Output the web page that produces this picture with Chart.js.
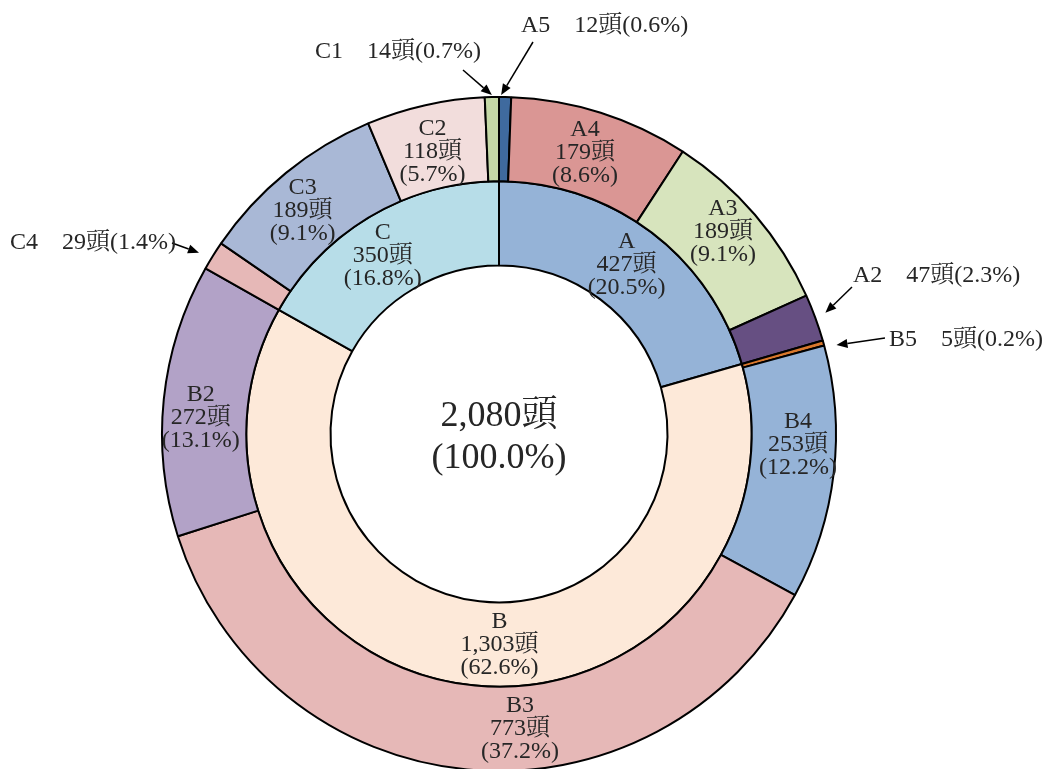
<!DOCTYPE html>
<html>
<head>
<meta charset="utf-8">
<script src="https://cdn.jsdelivr.net/npm/chart.js@4.4.1/dist/chart.umd.min.js"></script>
<style>
  html, body { margin: 0; padding: 0; background: #ffffff; overflow: hidden; }
  canvas { display: block; }
</style>
</head>
<body>
<canvas id="c" width="1044" height="780"></canvas>
<script>
// ---- data ----
const innerLabels = ['A', 'B', 'C'];
const innerValues = [427, 1303, 350];
const outerLabels = ['A5', 'A4', 'A3', 'A2', 'B5', 'B4', 'B3', 'B2', 'C4', 'C3', 'C2', 'C1'];
const outerValues = [12, 179, 189, 47, 5, 253, 773, 272, 29, 189, 118, 14];
const totalHead = 2080;
const unit = '頭';

// ---- styles ----
const innerColors = ['#95B3D7', '#FDE9D9', '#B7DDE8'];
const outerColors = ['#3F6A9E', '#DA9694', '#D7E4BD', '#664F82', '#D9782D', '#95B3D7',
                     '#E6B8B7', '#B2A2C7', '#E6B8B7', '#A9B8D6', '#F2DDDC', '#C5D8A6'];
const FONT = '"Liberation Serif", "Noto Serif CJK JP", "Noto Sans CJK JP", serif';
const TEXT = '#262626';
const LINE = 23;
// label nudges (layout only): [dx, dy] from segment centroid
const innerNudge = [[1, -1], [25, 2], [-10, 4]];
const outerNudge = {A4: [-3, 0], A3: [0, -10], B4: [6, -24], B3: [49, 1], B2: [-5, 14], C3: [-10, 5], C2: [-2, 5]};
// callouts (layout only): text left/middle position, arrow tail, tip nudge from outer edge
const callouts = {
  A5: {text: [521, 26], tail: [533, 42], tip: [-4, -2]},
  C1: {text: [315, 52], tail: [463, 70], tip: [0, -2]},
  C4: {text: [10, 243], tail: [172, 243], tip: [-14, -3]},
  A2: {text: [853, 276], tail: [852, 287], tip: [10, -5]},
  B5: {text: [889, 340], tail: [885, 338], tip: [13, 2]}
};

const fmt = v => v.toLocaleString('en-US');
const pct = v => (v / totalHead * 100).toFixed(1);

function arrow(ctx, x0, y0, x1, y1) {
  const a = Math.atan2(y1 - y0, x1 - x0);
  const L = 11, W = 4.5;
  const bx = x1 - L * Math.cos(a), by = y1 - L * Math.sin(a);
  ctx.beginPath();
  ctx.moveTo(x0, y0);
  ctx.lineTo(bx, by);
  ctx.stroke();
  ctx.beginPath();
  ctx.moveTo(x1, y1);
  ctx.lineTo(bx + W * Math.sin(a), by - W * Math.cos(a));
  ctx.lineTo(bx - W * Math.sin(a), by + W * Math.cos(a));
  ctx.closePath();
  ctx.fill();
}

const labelPlugin = {
  id: 'segLabels',
  afterDatasetsDraw(chart) {
    const ctx = chart.ctx;
    ctx.save();
    ctx.font = '24px ' + FONT;
    ctx.textBaseline = 'middle';
    chart.data.datasets.forEach((ds, di) => {
      const meta = chart.getDatasetMeta(di);
      meta.data.forEach((arc, i) => {
        const p = arc.getProps(['x', 'y', 'startAngle', 'endAngle', 'innerRadius', 'outerRadius'], true);
        const mid = (p.startAngle + p.endAngle) / 2;
        const rm = (p.innerRadius + p.outerRadius) / 2;
        const name = ds.names[i];
        const v = ds.data[i];
        const co = callouts[name];
        if (co) {
          const ex = p.x + p.outerRadius * Math.cos(mid) + co.tip[0];
          const ey = p.y + p.outerRadius * Math.sin(mid) + co.tip[1];
          ctx.strokeStyle = '#000';
          ctx.fillStyle = '#000';
          ctx.lineWidth = 1.5;
          arrow(ctx, co.tail[0], co.tail[1], ex, ey);
          ctx.fillStyle = TEXT;
          ctx.textAlign = 'left';
          ctx.fillText(name + '　' + fmt(v) + unit + '(' + pct(v) + '%)', co.text[0], co.text[1]);
          return;
        }
        const nd = di === 1 ? innerNudge[i] : (outerNudge[name] || [0, 0]);
        const cx = p.x + rm * Math.cos(mid) + nd[0];
        const cy = p.y + rm * Math.sin(mid) + nd[1];
        ctx.fillStyle = TEXT;
        ctx.textAlign = 'center';
        ctx.fillText(name, cx, cy - LINE);
        ctx.fillText(fmt(v) + unit, cx, cy);
        ctx.fillText('(' + pct(v) + '%)', cx, cy + LINE);
      });
    });
    // center total
    const a0 = chart.getDatasetMeta(1).data[0];
    const c = a0.getProps(['x', 'y'], true);
    ctx.font = '36px ' + FONT;
    ctx.textAlign = 'center';
    ctx.fillStyle = TEXT;
    const tot = innerValues.reduce((s, v) => s + v, 0);
    ctx.fillText(fmt(tot) + unit, c.x, c.y - 17);
    ctx.fillText('(' + pct(tot) + '%)', c.x, c.y + 25);
    ctx.restore();
  }
};

new Chart(document.getElementById('c'), {
  type: 'doughnut',
  data: {
    labels: outerLabels,
    datasets: [
      {data: outerValues, names: outerLabels, backgroundColor: outerColors, borderColor: '#000', borderWidth: 2},
      {data: innerValues, names: innerLabels, backgroundColor: innerColors, borderColor: '#000', borderWidth: 2}
    ]
  },
  options: {
    responsive: false,
    devicePixelRatio: 1,
    animation: false,
    cutout: '50%',
    layout: {padding: {top: 96, bottom: 8, left: 0, right: 46}},
    plugins: {legend: {display: false}, tooltip: {enabled: false}}
  },
  plugins: [labelPlugin]
});
</script>
</body>
</html>
